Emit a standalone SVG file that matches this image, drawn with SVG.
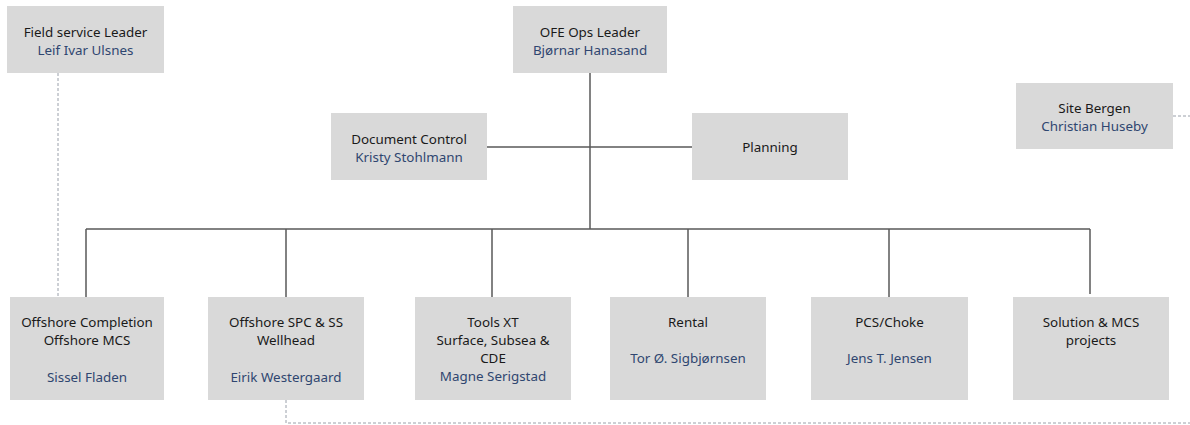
<svg xmlns="http://www.w3.org/2000/svg" width="1190" height="425" viewBox="0 0 1190 425">
<style>
.box{fill:#d9d9d9}
text{font-family:"Noto Sans","Open Sans","DejaVu Sans",sans-serif;font-size:13.4px;text-anchor:middle;fill:#1a1a1a}
.n{fill:#2f4670}
.ln{stroke:#5a5a5a;stroke-width:1.5;fill:none}
.dl{stroke:#9aa0aa;stroke-width:1;stroke-dasharray:3,2;fill:none}
</style>
<rect width="1190" height="425" fill="#ffffff"/>
<g id="connectors">
<path class="ln" d="M590,73 V229 M487,147 H692 M86,229 H1090 M86,229 V297 M286,229 V297 M492,229 V297 M688,229 V297 M889,229 V297 M1090,229 V294"/>
<path class="dl" d="M58,73 V297"/>
<path class="dl" d="M286,400 V423 H1190"/>
<path class="dl" d="M1173,116 H1190"/>
</g>
<g id="field-service-leader"><rect class="box" x="7" y="6" width="157" height="67"/><text x="85.5" y="37">Field service Leader</text><text class="n" x="85.5" y="55">Leif Ivar Ulsnes</text></g>
<g id="ofe-ops-leader"><rect class="box" x="513" y="6" width="154" height="67"/><text x="590" y="37">OFE Ops Leader</text><text class="n" x="590" y="55">Bjørnar Hanasand</text></g>
<g id="document-control"><rect class="box" x="331" y="113" width="156" height="67"/><text x="409" y="144">Document Control</text><text class="n" x="409" y="162">Kristy Stohlmann</text></g>
<g id="planning"><rect class="box" x="692" y="113" width="156" height="67"/><text x="770" y="152">Planning</text></g>
<g id="site-bergen"><rect class="box" x="1016" y="83" width="157" height="66"/><text x="1094.5" y="113">Site Bergen</text><text class="n" x="1094.5" y="131">Christian Huseby</text></g>
<g id="offshore-completion"><rect class="box" x="10" y="297" width="154" height="103"/><text x="87" y="327">Offshore Completion</text><text x="87" y="345">Offshore MCS</text><text class="n" x="87" y="382">Sissel Fladen</text></g>
<g id="offshore-spc"><rect class="box" x="208" y="297" width="156" height="103"/><text x="286" y="327">Offshore SPC &amp; SS</text><text x="286" y="345">Wellhead</text><text class="n" x="286" y="382">Eirik Westergaard</text></g>
<g id="tools-xt"><rect class="box" x="415" y="297" width="156" height="103"/><text x="493" y="327">Tools XT</text><text x="493" y="345">Surface, Subsea &amp;</text><text x="493" y="363">CDE</text><text class="n" x="493" y="381">Magne Serigstad</text></g>
<g id="rental"><rect class="box" x="610" y="297" width="156" height="103"/><text x="688" y="327">Rental</text><text class="n" x="688" y="363">Tor Ø. Sigbjørnsen</text></g>
<g id="pcs-choke"><rect class="box" x="811" y="297" width="157" height="103"/><text x="889.5" y="327">PCS/Choke</text><text class="n" x="889.5" y="363">Jens T. Jensen</text></g>
<g id="solution-mcs"><rect class="box" x="1013" y="297" width="156" height="103"/><text x="1091" y="327">Solution &amp; MCS</text><text x="1091" y="345">projects</text></g>
</svg>
